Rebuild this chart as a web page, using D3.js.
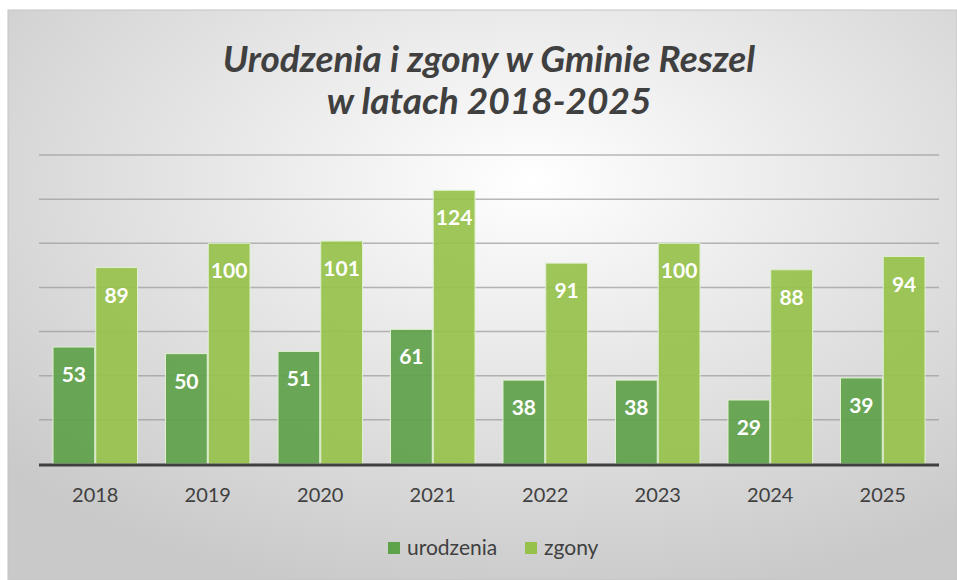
<!DOCTYPE html>
<html>
<head>
<meta charset="utf-8">
<script src="https://cdn.jsdelivr.net/npm/d3@7"></script>
<style>
  body { margin: 0; background: #fff; }
  svg { display: block; }
</style>
</head>
<body>
<svg id="chart" width="957" height="580"></svg>
<script>
// dane z wykresu
const years = ["2018", "2019", "2020", "2021", "2022", "2023", "2024", "2025"];
const urodzenia = [53, 50, 51, 61, 38, 38, 29, 39];
const zgony = [89, 100, 101, 124, 91, 100, 88, 94];
const gridTicks = [20, 40, 60, 80, 100, 120, 140];
const seriesNames = ["urodzenia", "zgony"];

const width = 957, height = 580;
const margin = { left: 39, right: 18, top: 155, bottom: 116 };

const svg = d3.select("#chart");

// tlo z gradientem
const defs = svg.append("defs");
const grad = defs.append("radialGradient")
  .attr("id", "bg")
  .attr("cx", "55%").attr("cy", "30%").attr("r", "75%");
grad.append("stop").attr("offset", "0%").attr("stop-color", "#ffffff");
grad.append("stop").attr("offset", "100%").attr("stop-color", "#c9c9c9");

svg.append("rect")
  .attr("x", 8).attr("y", 10)
  .attr("width", width - 8).attr("height", height - 10)
  .attr("fill", "url(#bg)")
  .attr("stroke", "#c4c4c4")
  .attr("stroke-width", 1);

// tytul
const title = svg.append("text")
  .attr("text-anchor", "middle")
  .style("font-family", "Lato, 'Open Sans', sans-serif")
  .style("font-weight", "bold")
  .style("font-style", "italic")
  .style("font-size", "37px")
  .attr("fill", "#404040");
title.append("tspan").attr("x", 489).attr("y", 72).text("Urodzenia i zgony w Gminie Reszel");
title.append("tspan").attr("x", 489).attr("y", 114).text("w latach 2018-2025");

const x0 = d3.scaleBand()
  .domain(years)
  .range([margin.left, width - margin.right])
  .paddingInner(0.24)
  .paddingOuter(0.12);

const x1 = d3.scaleBand()
  .domain(seriesNames)
  .range([0, x0.bandwidth()])
  .padding(0);

const y = d3.scaleLinear()
  .domain([0, 140])
  .range([height - margin.bottom, margin.top]);

const color = d3.scaleOrdinal()
  .domain(seriesNames)
  .range(["#5ea24a", "#96c14a"]);

// linie siatki
svg.append("g")
  .selectAll("line")
  .data(gridTicks)
  .join("line")
  .attr("x1", margin.left)
  .attr("x2", width - margin.right)
  .attr("y1", d => y(d))
  .attr("y2", d => y(d))
  .attr("stroke", "#9a9a9a")
  .attr("stroke-opacity", 0.7)
  .attr("stroke-width", 1.5);

const rows = years.map((yr, i) => ({ year: yr, values: [
  { key: "urodzenia", value: urodzenia[i] },
  { key: "zgony", value: zgony[i] }
]}));

const groups = svg.append("g")
  .selectAll("g")
  .data(rows)
  .join("g")
  .attr("transform", d => `translate(${x0(d.year)},0)`);

groups.selectAll("rect")
  .data(d => d.values)
  .join("rect")
  .attr("x", d => x1(d.key) + 0.5)
  .attr("y", d => y(d.value))
  .attr("width", x1.bandwidth() - 1)
  .attr("height", d => y(0) - y(d.value))
  .attr("fill", d => color(d.key))
  .attr("fill-opacity", 0.92)
  .attr("stroke", "#dff0cf")
  .attr("stroke-width", 1);

groups.selectAll("text")
  .data(d => d.values)
  .join("text")
  .attr("x", d => x1(d.key) + x1.bandwidth() / 2)
  .attr("y", d => y(d.value) + 35)
  .attr("text-anchor", "middle")
  .style("font-family", "Lato, 'Open Sans', sans-serif")
  .style("font-weight", "bold")
  .style("font-size", "21px")
  .attr("fill", "#ffffff")
  .text(d => d.value);

// os X
svg.append("line")
  .attr("x1", margin.left)
  .attr("x2", width - margin.right)
  .attr("y1", y(0) + 1)
  .attr("y2", y(0) + 1)
  .attr("stroke", "#404040")
  .attr("stroke-width", 3);

svg.append("g")
  .selectAll("text")
  .data(years)
  .join("text")
  .attr("x", d => x0(d) + x0.bandwidth() / 2)
  .attr("y", y(0) + 38)
  .attr("text-anchor", "middle")
  .style("font-family", "Lato, 'Open Sans', sans-serif")
  .style("font-size", "20px")
  .attr("fill", "#404040")
  .text(d => d);

// legenda
const legend = svg.append("g").attr("transform", "translate(388,548)");
const legendX = [0, 137];
seriesNames.forEach((name, i) => {
  const g = legend.append("g").attr("transform", `translate(${legendX[i]},0)`);
  g.append("rect")
    .attr("x", 0).attr("y", -6)
    .attr("width", 12).attr("height", 12)
    .attr("fill", color(name));
  g.append("text")
    .attr("x", 19).attr("y", 7)
    .style("font-family", "Lato, 'Open Sans', sans-serif")
    .style("font-size", "21px")
    .attr("fill", "#404040")
    .text(name);
});
</script>
</body>
</html>
